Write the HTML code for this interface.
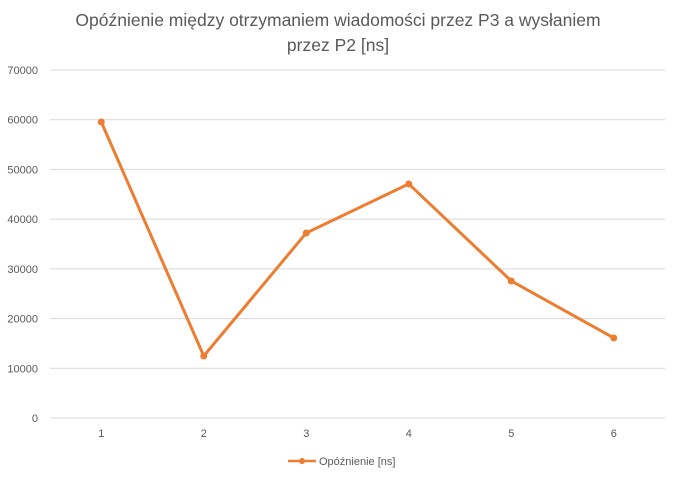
<!DOCTYPE html>
<html><head><meta charset="utf-8"><style>
body{margin:0;background:#fff;}
svg text{font-family:"Liberation Sans",sans-serif;}
</style></head><body>
<svg id="chart" width="677" height="474">
<rect width="677" height="474" fill="#fff"/>
<text x="338" y="26" text-anchor="middle" font-size="17.5" fill="#595959">Opóźnienie między otrzymaniem wiadomości przez P3 a wysłaniem</text>
<text x="338" y="51" text-anchor="middle" font-size="17.5" fill="#595959">przez P2 [ns]</text>
<g id="grid"></g><g id="xlabels"></g><g id="series"></g>
<g>
<line x1="288" y1="461" x2="316" y2="461" stroke="#ED7D31" stroke-width="2.5"/>
<circle cx="302" cy="461" r="3" fill="#ED7D31"/>
<text x="319" y="465" font-size="11" fill="#595959">Opóźnienie [ns]</text>
</g>
</svg>
<script>
const categories=["1","2","3","4","5","6"];
const values=[59550,12470,37220,47080,27560,16100];
const yTicks=[0,10000,20000,30000,40000,50000,60000,70000];
const ns="http://www.w3.org/2000/svg";
const plotLeft=50,plotRight=665,plotTop=70,plotBottom=418,yMax=70000;
const step=(plotRight-plotLeft)/categories.length;
function xs(i){return plotLeft+step*(i+0.5);}
function ys(v){return plotBottom-(v/yMax)*(plotBottom-plotTop);}
function mk(t,a,p){const e=document.createElementNS(ns,t);for(const k in a)e.setAttribute(k,a[k]);p.appendChild(e);return e;}
const g=document.getElementById('grid');
yTicks.forEach(v=>{
 const l=mk('line',{x1:plotLeft,x2:plotRight,y1:ys(v),y2:ys(v),stroke:'#d9d9d9','stroke-width':1},g);
 
 
 const t=mk('text',{x:38,y:ys(v)+4,'text-anchor':'end','font-size':11,fill:'#595959'},g);
 t.textContent=v;
 
 
});
const xl=document.getElementById('xlabels');
categories.forEach((c,i)=>{
 const t=mk('text',{x:xs(i),y:437,'text-anchor':'middle','font-size':11,fill:'#595959'},xl);
 t.textContent=c;
 
 
});
const s=document.getElementById('series');
const pl=mk('polyline',{points:values.map((v,i)=>xs(i)+','+ys(v)).join(' '),fill:'none',stroke:'#ED7D31','stroke-width':3,'stroke-linejoin':'round'},s);


values.forEach((v,i)=>{
 const c=mk('circle',{cx:xs(i),cy:ys(v),r:3.5,fill:'#ED7D31'},s);
 
 
});
</script>
</body></html>
